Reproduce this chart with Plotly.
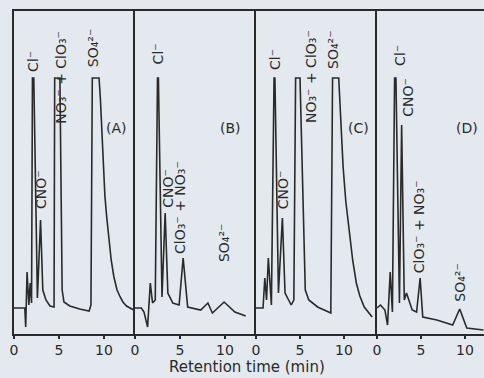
import plotly.graph_objects as go

# ---- data: retention time (min) and detector response (arbitrary units) ----
t_A = [0, 1.2, 1.3, 1.45, 1.65, 1.8, 1.95, 2.05, 2.2, 2.6, 2.95, 3.2, 3.55, 4.0, 4.45,
       4.52, 5.0, 5.1, 5.35, 5.55, 6.2, 7.3, 8.35, 8.55, 8.7, 9.45, 9.6, 9.7, 9.8, 9.9,
       10.1, 10.3, 10.55, 10.8, 11.1, 11.45, 11.8, 12.1, 12.5, 12.9, 13.3]
v_A = [26, 26, 7, 62, 29, 51, 31, 256, 256, 36, 114, 44, 34, 28, 27,
       256, 256, 256, 44, 32, 28, 25, 23, 29, 256, 256, 235, 214, 188, 164,
       138, 117, 94, 74, 57, 44, 37, 32, 28, 26, 24]

t_B = [0, 0.7, 1.0, 1.4, 1.7, 1.95, 2.25, 2.5, 2.6, 3.0, 3.35, 3.65, 4.2, 4.9, 5.35,
       5.85, 7.3, 8.1, 8.6, 9.9, 11.1, 12.3]
v_B = [26, 26, 22, 7, 51, 31, 34, 256, 256, 37, 121, 41, 31, 29, 76,
       27, 24, 31, 21, 32, 22, 18]

t_C = [0, 0.8, 1.0, 1.2, 1.4, 1.75, 2.05, 2.15, 2.55, 3.0, 3.3, 4.0, 4.3, 4.5, 5.0,
       5.6, 6.0, 7.0, 8.5, 8.7, 9.4, 9.6, 9.75, 9.9, 10.2, 10.6, 11.0, 11.4, 11.8, 12.3,
       13.0, 13.2]
v_C = [26, 26, 56, 34, 76, 29, 256, 256, 41, 116, 41, 29, 34, 256, 256,
       44, 34, 27, 21, 256, 256, 214, 188, 167, 133, 101, 73, 51, 38, 27,
       19, 17]

t_D = [0, 0.4, 0.9, 1.2, 1.5, 1.75, 2.0, 2.15, 2.55, 2.8, 3.1, 3.35, 4.0, 4.5, 4.9,
       5.2, 6.8, 8.6, 9.4, 10.2, 12.1]
v_D = [26, 29, 24, 9, 62, 22, 256, 256, 31, 209, 34, 41, 24, 22, 56,
       17, 14, 9, 25, 6, 4]

tick_vals = [0, 5, 10]
tick_text = ["0", "5", "10"]
x_title = "Retention time (min)"

# peak labels: (text, retention time, response position)
labels_A = [("Cl⁻", 2.1, 273), ("CNO⁻", 3.0, 144), ("NO₃⁻ + ClO₃⁻", 5.2, 257), ("SO₄²⁻", 8.8, 286)]
labels_B = [("Cl⁻", 2.6, 280), ("CNO⁻", 3.65, 146), ("ClO₃⁻ + NO₃⁻", 5.0, 126), ("SO₄²⁻", 9.9, 91)]
labels_C = [("Cl⁻", 2.15, 275), ("CNO⁻", 3.1, 144), ("NO₃⁻ + ClO₃⁻", 6.25, 257), ("SO₄²⁻", 8.75, 284)]
labels_D = [("Cl⁻", 2.6, 279), ("CNO⁻", 3.5, 237), ("ClO₃⁻ + NO₃⁻", 4.8, 107), ("SO₄²⁻", 9.4, 52)]
panel_names = ["(A)", "(B)", "(C)", "(D)"]
panel_name_pos = [(11.4, 206), (10.6, 206), (11.6, 206), (10.2, 206)]

# ---- styling ----
INK = "#2a2a2a"
BG = "#e3e9ee"
FONT = "DejaVu Sans"

panels = [(t_A, v_A, labels_A), (t_B, v_B, labels_B), (t_C, v_C, labels_C), (t_D, v_D, labels_D)]
ranges = [[0, 121 / 9.0], [0, 121 / 9.0], [0, 121 / 8.8], [0, 107 / 8.8]]
total = 470.0
bounds = [0, 121, 242, 363, 470]

fig = go.Figure()
annotations = []
for i, (tt, vv, labs) in enumerate(panels):
    n = "" if i == 0 else str(i + 1)
    fig.add_trace(go.Scatter(x=tt, y=vv, mode="lines", xaxis="x" + n, yaxis="y" + n,
                             line=dict(color=INK, width=1.6), showlegend=False,
                             hoverinfo="skip"))
    dom = [bounds[i] / total, bounds[i + 1] / total]
    fig.layout["xaxis" + n] = dict(domain=dom, range=ranges[i], anchor="y" + n,
                                   showline=True, linecolor=INK, linewidth=1.6, mirror=True,
                                   ticks="outside", ticklen=3, tickwidth=1.3, tickcolor=INK,
                                   tickvals=tick_vals, ticktext=tick_text,
                                   tickfont=dict(family=FONT, size=14, color=INK),
                                   showgrid=False, zeroline=False, fixedrange=True)
    ydict = dict(domain=[0, 1], range=[0, 323], anchor="x" + n,
                 showline=True, linecolor=INK, linewidth=1.6, mirror=False,
                 showticklabels=False, ticks="", showgrid=False, zeroline=False,
                 fixedrange=True)
    if i > 0:
        ydict["matches"] = "y"
    fig.layout["yaxis" + n] = ydict
    for (txt, lt, lv) in labs:
        annotations.append(dict(text=txt, x=lt, y=lv, xref="x" + n, yref="y" + n,
                                showarrow=False, textangle=-90,
                                font=dict(family=FONT, size=14, color=INK)))
    px, py = panel_name_pos[i]
    annotations.append(dict(text=panel_names[i], x=px, y=py, xref="x" + n, yref="y" + n,
                            showarrow=False, font=dict(family=FONT, size=14, color=INK)))

annotations.append(dict(text=x_title, x=0.496, y=-0.102, xref="paper", yref="paper",
                        yanchor="middle", showarrow=False,
                        font=dict(family=FONT, size=15, color=INK)))

fig.update_layout(width=484, height=378, margin=dict(l=14, r=0, t=11, b=44),
                  paper_bgcolor=BG, plot_bgcolor=BG, annotations=annotations,
                  font=dict(family=FONT, color=INK))

fig.write_html("out.html",
               config={"displayModeBar": False, "staticPlot": True},
               post_script="document.body.style.margin='0';"
                           "document.body.style.background='" + BG + "';")
